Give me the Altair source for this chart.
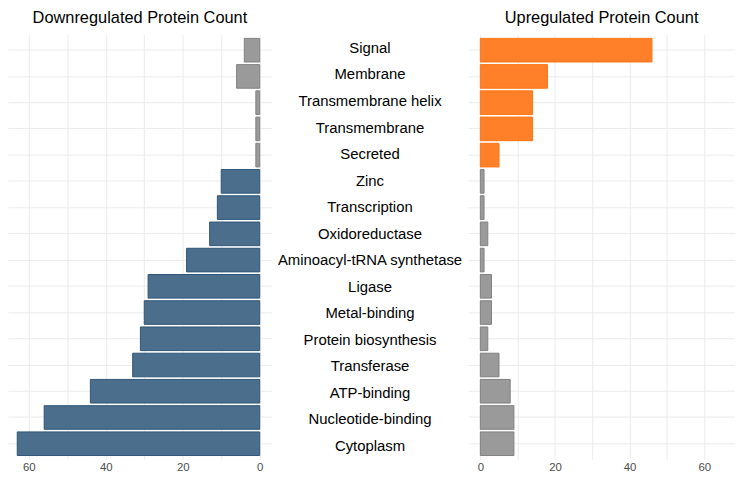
import altair as alt
import pandas as pd

categories = ["Signal", "Membrane", "Transmembrane helix", "Transmembrane", "Secreted",
              "Zinc", "Transcription", "Oxidoreductase", "Aminoacyl-tRNA synthetase",
              "Ligase", "Metal-binding", "Protein biosynthesis", "Transferase",
              "ATP-binding", "Nucleotide-binding", "Cytoplasm"]
down_counts = [4, 6, 1, 1, 1, 10, 11, 13, 19, 29, 30, 31, 33, 44, 56, 63]
up_counts = [46, 18, 14, 14, 5, 1, 1, 2, 1, 3, 3, 2, 5, 8, 9, 9]
enriched_in = ["up"] * 5 + ["down"] * 11
tick_values = [0, 10, 20, 30, 40, 50, 60]

df = pd.DataFrame({"category": categories, "down": down_counts, "up": up_counts,
                   "enriched": enriched_in})

FONT = "Arial, Liberation Sans, sans-serif"
H = 428
yscale = alt.Scale(domain=categories, paddingInner=0.1, paddingOuter=0.14)
yaxis = alt.Axis(title=None, labels=False, ticks=False, domain=False, grid=True,
                 bandPosition=0.5, gridColor="#ebebeb", gridWidth=1)

def xaxis():
    return alt.Axis(title=None, values=tick_values, grid=True, gridColor="#ebebeb",
                    ticks=False, domain=False, labelColor="#4d4d4d", labelFont=FONT,
                    labelFontSize=11.5, labelPadding=2,
                    labelExpr="datum.value % 20 == 0 ? datum.label : ''")

def ttl(text):
    return alt.TitleParams(text=text, font=FONT, fontSize=16.5, fontWeight="normal",
                           color="#000000", anchor="middle", offset=8)

left = alt.Chart(df).mark_bar(strokeWidth=1).encode(
    y=alt.Y("category:N", scale=yscale, axis=yaxis, sort=categories),
    x=alt.X("down:Q", scale=alt.Scale(domain=[-3.15, 65.4], reverse=True, nice=False, zero=False),
            axis=xaxis()),
    x2=alt.datum(0),
    fill=alt.Fill("enriched:N", scale=alt.Scale(domain=["down", "up"], range=["#4a6e8c", "#9a9a9a"]),
                  legend=None),
    stroke=alt.Stroke("enriched:N", scale=alt.Scale(domain=["down", "up"], range=["#2e5578", "#808080"]),
                      legend=None),
).properties(width=266, height=H, title=ttl("Downregulated Protein Count"))

middle = alt.Chart(df).mark_text(font=FONT, fontSize=15, color="#000000", align="center",
                                 baseline="middle").encode(
    y=alt.Y("category:N", scale=yscale, axis=None, sort=categories),
    x=alt.value(99),
    text="category:N",
).properties(width=198, height=H, title=ttl(" "))

right = alt.Chart(df).mark_bar(strokeWidth=1).encode(
    y=alt.Y("category:N", scale=yscale, axis=yaxis, sort=categories),
    x=alt.X("up:Q", scale=alt.Scale(domain=[-3.25, 68.25], nice=False, zero=False),
            axis=xaxis()),
    x2=alt.datum(0),
    fill=alt.Fill("enriched:N", scale=alt.Scale(domain=["up", "down"], range=["#ff8028", "#9a9a9a"]),
                  legend=None),
    stroke=alt.Stroke("enriched:N", scale=alt.Scale(domain=["up", "down"], range=["#ff7412", "#808080"]),
                      legend=None),
).properties(width=269, height=H, title=ttl("Upregulated Protein Count"))

chart = alt.hconcat(left, middle, right, spacing=0).resolve_scale(
    fill="independent", stroke="independent", x="independent"
).configure_view(stroke=None).properties(padding=0, background="#ffffff")

chart.save("out.html", embed_options={"renderer": "svg", "actions": False})
